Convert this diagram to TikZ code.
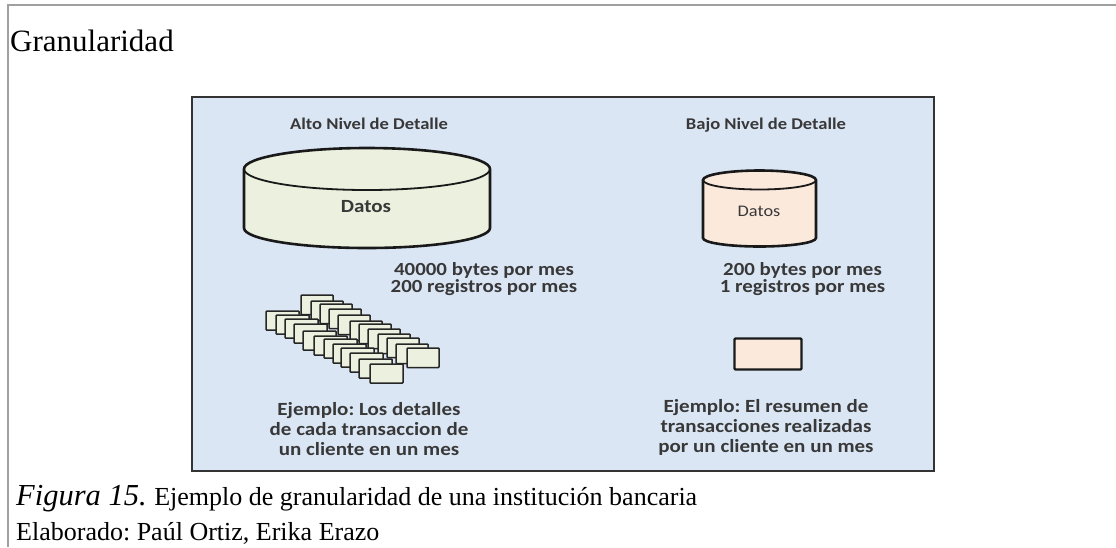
\documentclass[tikz,border=0pt]{standalone}
\usepackage{graphicx}
\usepackage{fontspec}
\setmainfont{Liberation Serif}
\newfontfamily\calfnt{Carlito}
\newcommand{\wlab}[1]{\scalebox{1.13}[1]{\begin{tabular}{@{}c@{}}#1\end{tabular}}}
\frenchspacing
\definecolor{panel}{HTML}{DBE6F5}
\definecolor{sheetgreen}{HTML}{EBF0DF}
\definecolor{peach}{HTML}{FBE9DC}
\definecolor{framegray}{HTML}{A0A0A0}
\tikzset{
  sheet/.style={draw=black!85,line width=1.5pt,fill=sheetgreen,rounded corners=0.8pt},
  lab/.style={font=\calfnt\bfseries\fontsize{18.6}{19.6}\selectfont,text=black!78,inner sep=0pt},
  lam/.style={font=\calfnt\bfseries\fontsize{18.5}{16.6}\selectfont,text=black!78,inner sep=0pt},
  lah/.style={font=\calfnt\bfseries\fontsize{16.4}{17.5}\selectfont,text=black!78,inner sep=0pt},
  cyl/.style={draw=black!90,line width=2.6pt},
  times/.style={anchor=base west,inner sep=0pt,text=black}
}
\begin{document}
\begin{tikzpicture}[x=1pt,y=-1pt]
\useasboundingbox (0,0) rectangle (1116,547);
\fill[white] (0,0) rectangle (1116,547);
\draw[framegray,line width=1.4pt] (8,547) -- (8,5) -- (1116,5);
\node[times,font=\fontsize{31}{32}\selectfont] (title) at (10,51) {Granularidad};
\draw[draw=black!80,line width=1.4pt,fill=panel] (192,97) rectangle (934,471);
% large cylinder
\draw[cyl,fill=sheetgreen] (244,169) -- (244,228) arc[start angle=180,end angle=0,x radius=123,y radius=20] -- (490,169) arc[start angle=0,end angle=-180,x radius=123,y radius=21] -- cycle;
\draw[cyl,line width=1.8pt] (244,169) arc[start angle=180,end angle=0,x radius=123,y radius=21];
% small cylinder
\draw[cyl,fill=peach] (703,180) -- (703,238) arc[start angle=180,end angle=0,x radius=56.5,y radius=8.5] -- (816,180) arc[start angle=0,end angle=-180,x radius=56.5,y radius=9.5] -- cycle;
\draw[cyl,line width=1.8pt] (703,180) arc[start angle=180,end angle=0,x radius=56.5,y radius=9.5];
\node[lah] (a1) at (369,126) {\wlab{Alto Nivel de Detalle}};
\node[lah] (a2) at (766,126) {\wlab{Bajo Nivel de Detalle}};
\node[lab] (d1) at (366,209) {\wlab{Datos}};
\node[lah,font=\calfnt\fontsize{16.2}{18}\selectfont] (d2) at (759,213) {\wlab{Datos}};
\node[lam] (m1) at (484,280) {\wlab{40000 bytes por mes\\200 registros por mes}};
\node[lam] (m2) at (802.5,280) {\wlab{200 bytes por mes\\1 registros por mes}};
% stack of sheets: back row, then front row
\foreach \px/\py in {301/295,311/301,320/304,329/309,338/315,350/321,359/324,368/329,378/334,387/338,396/344,407/348}
  \draw[sheet] (\px,\py) rectangle ++(32,19.5);
\foreach \px/\py in {266/311,276/315,285/319,294/324,303/331,314/336,324/339,333/344,341/348,350/353,359/359,370/364}
  \draw[sheet] (\px,\py) rectangle ++(33,19);
\node[draw=black!90,line width=2.4pt,fill=peach,rounded corners=1pt,minimum width=67pt,minimum height=31pt,inner sep=0pt] (r) at (768,354) {};
\node[lab] (e1) at (369,431.5) {\wlab{Ejemplo: Los detalles\\de cada transaccion de\\un cliente en un mes}};
\node[lab] (e2) at (766,428.5) {\wlab{Ejemplo: El resumen de\\transacciones realizadas\\por un cliente en un mes}};
\node[times,font=\fontsize{26}{26}\selectfont] (c1) at (16,505) {\fontsize{30.5}{30}\selectfont\textit{Figura 15.} \fontsize{26}{26}\selectfont Ejemplo de granularidad de una instituci\'on bancaria};
\node[times,font=\fontsize{26}{26}\selectfont] (c2) at (16,540) {Elaborado: Pa\'ul Ortiz, Erika Erazo};
\end{tikzpicture}
\end{document}
